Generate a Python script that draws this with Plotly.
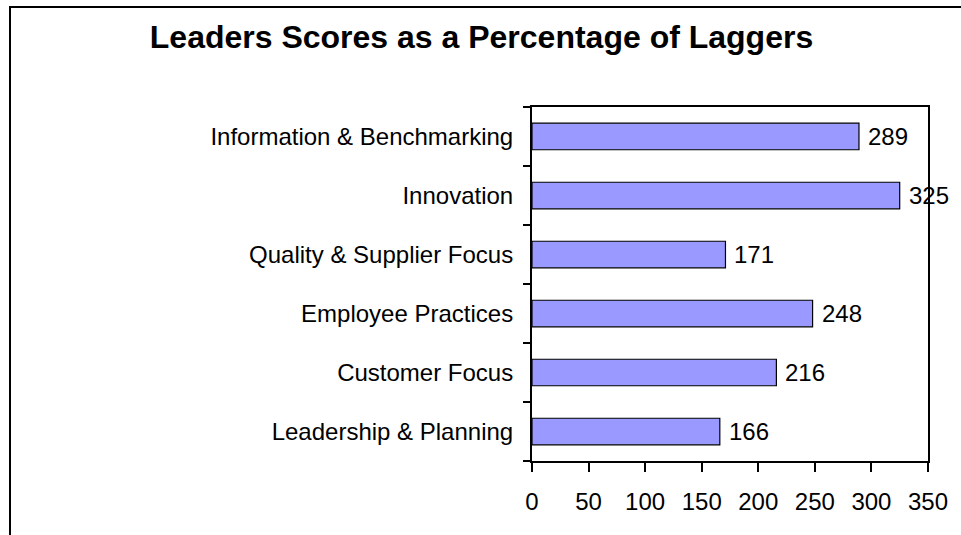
import plotly.graph_objects as go

categories = [
    "Leadership & Planning",
    "Customer Focus",
    "Employee Practices",
    "Quality & Supplier Focus",
    "Innovation",
    "Information & Benchmarking",
]
values = [166, 216, 248, 171, 325, 289]
x_ticks = [0, 50, 100, 150, 200, 250, 300, 350]
title_text = "Leaders Scores as a Percentage of Laggers"

W, H = 961, 535
L, R, T, B = 532, 928, 107, 461  # plot area pixel box

def px_x(p):
    return (p - L) / (R - L)

def px_y(p):
    return (B - p) / (B - T)

FONT = "Liberation Sans, Arial, sans-serif"

fig = go.Figure()
fig.add_trace(go.Bar(
    x=values,
    y=categories,
    orientation="h",
    width=0.45,
    marker=dict(color="#9999FF", line=dict(color="black", width=1.2)),
    hoverinfo="x+y",
))

annotations = []
for c, v in zip(categories, values):
    annotations.append(dict(
        x=v, y=c, xref="x", yref="y", text=str(v), showarrow=False,
        xanchor="left", yanchor="middle", xshift=7,
        font=dict(family=FONT, size=24, color="black"),
    ))

fig.update_layout(
    width=W, height=H,
    margin=dict(l=L, r=W - R, t=T, b=H - B, pad=0),
    paper_bgcolor="white", plot_bgcolor="white",
    showlegend=False,
    title=dict(
        text="<b>" + title_text + "</b>",
        x=481.5 / W, xanchor="center", xref="container",
        y=1 - 37 / H, yanchor="middle", yref="container",
        font=dict(family=FONT, size=32, color="black"),
    ),
    annotations=annotations,
    shapes=[dict(
        type="rect", xref="paper", yref="paper",
        x0=px_x(10), x1=px_x(975), y0=px_y(550), y1=px_y(7),
        line=dict(color="black", width=2), fillcolor="rgba(0,0,0,0)",
        layer="below",
    )],
    xaxis=dict(
        range=[0, 350], tickmode="array", tickvals=x_ticks,
        ticktext=[str(t) for t in x_ticks],
        showgrid=False, zeroline=False,
        showline=True, linecolor="black", linewidth=2, mirror=True,
        ticks="outside", ticklen=9, tickwidth=2, tickcolor="black",
        ticklabelstandoff=9,
        tickfont=dict(family=FONT, size=24, color="black"),
        fixedrange=True,
    ),
    yaxis=dict(
        type="category", categoryorder="array", categoryarray=categories,
        range=[-0.5, len(categories) - 0.5],
        showgrid=False, zeroline=False,
        showline=True, linecolor="black", linewidth=2, mirror=True,
        ticks="outside", ticklen=7, tickwidth=2, tickcolor="black",
        tickson="boundaries", ticklabelstandoff=12,
        tickfont=dict(family=FONT, size=24, color="black"),
        fixedrange=True,
    ),
)

fig.write_html(
    "out.html",
    config={"displayModeBar": False},
    post_script="document.body.style.margin='0';document.body.style.overflow='hidden';",
)
